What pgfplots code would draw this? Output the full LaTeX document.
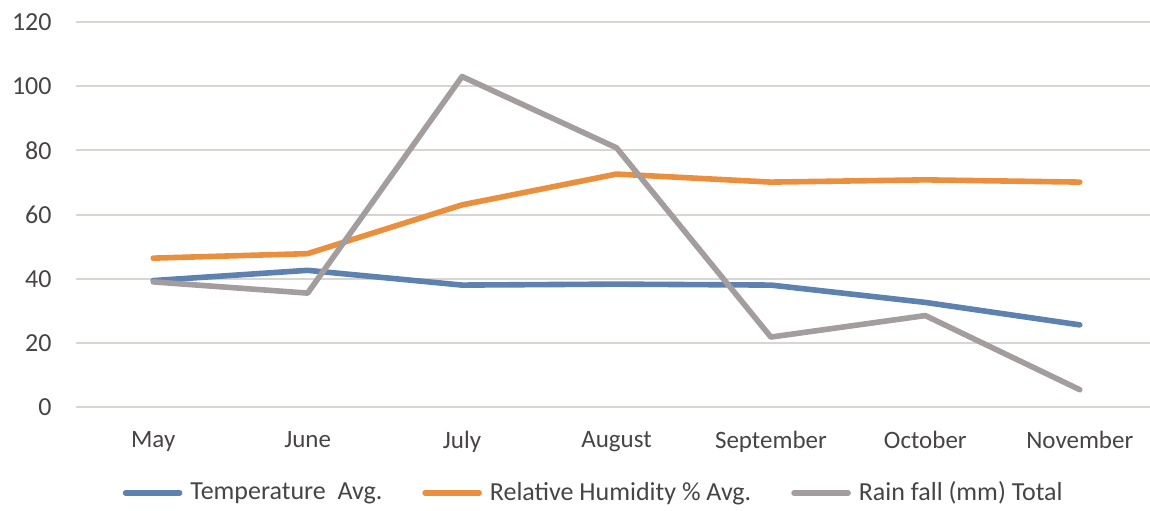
\documentclass[border=0pt]{standalone}
\usepackage{pgfplots}
\pgfplotsset{compat=1.18}
\usepackage{fontspec}
\setmainfont{Carlito}
\definecolor{cblue}{HTML}{5E82B0}
\definecolor{corange}{HTML}{E98F3E}
\definecolor{cgray}{HTML}{A39D9D}
\definecolor{cgrid}{HTML}{D9D5D3}
\definecolor{ctext}{HTML}{484444}
\begin{document}
\begin{tikzpicture}
\begin{axis}[
  scale only axis,
  width=537pt, height=192.5pt,
  xmin=-0.5, xmax=6.455,
  ymin=0, ymax=120,
  ytick={0,20,...,120},
  xtick={0,...,6},
  xticklabels={May,June,July,August,September,October,November},
  axis line style={draw=none},
  major tick length=0pt,
  ymajorgrids, grid style={cgrid, line width=1pt},
  /pgf/number format/assume math mode=true,
  tick label style={text=ctext},
  yticklabel style={anchor=east, inner sep=0pt, xshift=-12pt, font=\fontsize{13}{15}\selectfont},
  xticklabel style={anchor=north, inner sep=0pt, yshift=-12pt, font=\fontsize{12.5}{15}\selectfont},
  legend style={draw=none, at={(0.483,-0.223)}, anchor=center,
    font=\fontsize{13}{15}\selectfont, text=ctext, inner sep=0pt},
  legend columns=-1,
  legend image code/.code={\draw[#1, line width=2.8pt, line cap=round] (0,0) -- (27pt,0);},
  /tikz/every odd column/.append style={column sep=2pt},
  /tikz/every even column/.append style={column sep=18pt},
  clip=false,
]
\addplot[cblue, line width=2.8pt, line cap=round, line join=round] coordinates {
(0,39.4) (1,42.6) (2,38) (3,38.3) (4,38) (5,32.6) (6,25.6)};
\addlegendentry{Temperature\ \ Avg.}
\addplot[corange, line width=2.8pt, line cap=round, line join=round] coordinates {
(0,46.4) (1,47.8) (2,63) (3,72.6) (4,70.1) (5,70.8) (6,70.1)};
\addlegendentry{Relative Humidity \% Avg.}
\addplot[cgray, line width=2.8pt, line cap=round, line join=round] coordinates {
(0,39) (1,35.5) (2,103) (3,80.8) (4,21.8) (5,28.5) (6,5.4)};
\addlegendentry{Rain fall (mm) Total}
\end{axis}
\pgfresetboundingbox
\path (-38pt,-51.5pt) rectangle (537pt,203.5pt);
\end{tikzpicture}
\end{document}
